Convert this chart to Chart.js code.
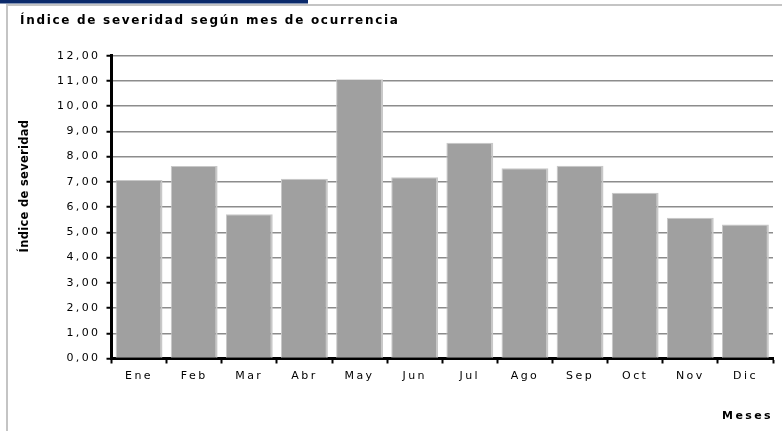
<!DOCTYPE html>
<html>
<head>
<meta charset="utf-8">
<title>Índice de severidad según mes de ocurrencia</title>
<script src="https://cdn.jsdelivr.net/npm/chart.js@4/dist/chart.umd.min.js"></script>
<style>
  html, body { margin: 0; padding: 0; background: #fff; }
  canvas { display: block; }
</style>
</head>
<body>
<canvas id="chart" width="782" height="431"></canvas>
<script>
// datos
const meses = ["Ene", "Feb", "Mar", "Abr", "May", "Jun", "Jul", "Ago", "Sep", "Oct", "Nov", "Dic"];
const indiceSeveridad = [7.07, 7.63, 5.72, 7.12, 11.07, 7.18, 8.55, 7.54, 7.64, 6.57, 5.58, 5.31];
const yTickLabels = ["0,00", "1,00", "2,00", "3,00", "4,00", "5,00", "6,00", "7,00", "8,00", "9,00", "10,00", "11,00", "12,00"];

const tituloGrafico = "Índice de severidad según mes de ocurrencia";
const tituloEjeY = "Índice de severidad";
const tituloEjeX = "Meses";

Chart.defaults.font.family = "'DejaVu Sans', Verdana, sans-serif";
Chart.defaults.color = "#000";

// marco, titulo y titulo del eje Y (estilo hoja de Excel)
const marcoPlugin = {
  id: "marco",
  beforeDraw(chart) {
    const ctx = chart.ctx;
    ctx.save();
    ctx.fillStyle = "#fff";
    ctx.fillRect(0, 0, chart.width, chart.height);
    ctx.fillStyle = "#0b2a6b";
    ctx.fillRect(0, 0, 308, 3.5);
    ctx.fillStyle = "#c4c4c4";
    ctx.fillRect(6, 4, chart.width - 6, 2);
    ctx.fillRect(6, 4, 2, chart.height - 4);
    ctx.restore();
    // espaciado ancho como en el original
    ctx.letterSpacing = "2.4px";
  },
  afterDraw(chart) {
    const ctx = chart.ctx;
    ctx.save();
    ctx.fillStyle = "#000";
    ctx.textBaseline = "alphabetic";

    ctx.letterSpacing = "1.7px";
    ctx.font = "bold 12px 'DejaVu Sans', Verdana, sans-serif";
    ctx.textAlign = "left";
    ctx.fillText(tituloGrafico, 20, 23.5);

    ctx.letterSpacing = "0.3px";
    ctx.font = "bold 11.5px 'DejaVu Sans', Verdana, sans-serif";
    ctx.translate(28, 186);
    ctx.rotate(-Math.PI / 2);
    ctx.textAlign = "center";
    ctx.fillText(tituloEjeY, 0, 0);
    ctx.restore();
  }
};

const ctx = document.getElementById("chart").getContext("2d");
ctx.letterSpacing = "2.4px";

new Chart(ctx, {
  type: "bar",
  data: {
    labels: meses,
    datasets: [
      {
        label: tituloEjeY,
        data: indiceSeveridad,
        backgroundColor: "#a0a0a0",
        borderColor: "#c8c8c8",
        borderWidth: { top: 1, left: 1, right: 2, bottom: 0 },
        barPercentage: 0.85,
        categoryPercentage: 1
      }
    ]
  },
  options: {
    responsive: false,
    animation: false,
    layout: {
      padding: { left: 20, right: 9, top: 55.7, bottom: 0 }
    },
    plugins: {
      legend: { display: false },
      tooltip: { enabled: false },
      title: { display: false }
    },
    scales: {
      x: {
        afterFit: scale => { scale.height = 72.5; },
        border: { display: true, color: "#000", width: 3 },
        grid: {
          offset: true,
          drawOnChartArea: false,
          drawTicks: true,
          tickLength: 5,
          tickWidth: 2,
          tickColor: "#000"
        },
        ticks: {
          autoSkip: false,
          maxRotation: 0,
          padding: 6,
          font: { size: 11 },
          color: "#000"
        },
        title: {
          display: true,
          text: tituloEjeX,
          align: "end",
          font: { size: 11, weight: "bold" },
          color: "#000",
          padding: { top: 0, bottom: 8.7 }
        }
      },
      y: {
        min: 0,
        max: 12,
        afterFit: scale => { scale.width = 91.5; },
        border: { display: true, color: "#000", width: 3 },
        grid: {
          color: "#8c8c8c",
          lineWidth: 1.5,
          drawTicks: true,
          tickLength: 5,
          tickWidth: 2,
          tickColor: "#000"
        },
        ticks: {
          stepSize: 1,
          padding: 6,
          font: { size: 11 },
          color: "#000",
          callback: (value, index) => yTickLabels[index]
        }
      }
    }
  },
  plugins: [marcoPlugin]
});
</script>
</body>
</html>
